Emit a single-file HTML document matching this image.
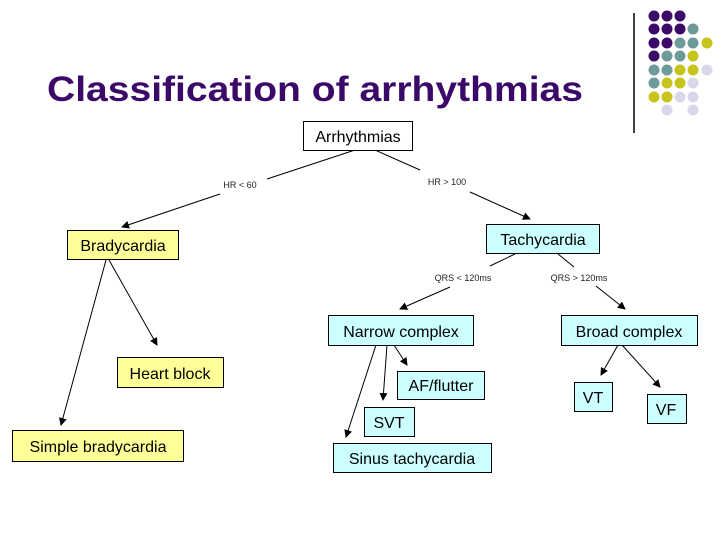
<!DOCTYPE html>
<html><head><meta charset="utf-8"><style>html,body{margin:0;padding:0;background:#fff}svg{display:block}</style></head>
<body>
<svg width="728" height="546" viewBox="0 0 728 546" xmlns="http://www.w3.org/2000/svg" font-family="Liberation Sans, Arial, sans-serif">
<defs><marker id="a" markerWidth="8" markerHeight="8" refX="7" refY="4" orient="auto" markerUnits="userSpaceOnUse"><path d="M0,0 L8,4 L0,8 z" fill="#000"/></marker></defs>
<g fill="#3b0a68"><circle cx="654" cy="16" r="5.5"/><circle cx="667" cy="16" r="5.5"/><circle cx="680" cy="16" r="5.5"/>
<circle cx="654" cy="29" r="5.5"/><circle cx="667" cy="29" r="5.5"/><circle cx="680" cy="29" r="5.5"/>
<circle cx="654" cy="43" r="5.5"/><circle cx="667" cy="43" r="5.5"/><circle cx="654" cy="56" r="5.5"/></g>
<g fill="#6e9a9a"><circle cx="693" cy="29" r="5.5"/><circle cx="680" cy="43" r="5.5"/><circle cx="693" cy="43" r="5.5"/>
<circle cx="667" cy="56" r="5.5"/><circle cx="680" cy="56" r="5.5"/><circle cx="654" cy="70" r="5.5"/><circle cx="667" cy="70" r="5.5"/><circle cx="654" cy="83" r="5.5"/></g>
<g fill="#c8c41e"><circle cx="707" cy="43" r="5.5"/><circle cx="693" cy="56" r="5.5"/><circle cx="680" cy="70" r="5.5"/><circle cx="693" cy="70" r="5.5"/>
<circle cx="667" cy="83" r="5.5"/><circle cx="680" cy="83" r="5.5"/><circle cx="654" cy="97" r="5.5"/><circle cx="667" cy="97" r="5.5"/></g>
<g fill="#d8d8ea"><circle cx="707" cy="70" r="5.5"/><circle cx="693" cy="83" r="5.5"/><circle cx="680" cy="97" r="5.5"/><circle cx="693" cy="97" r="5.5"/><circle cx="667" cy="110" r="5.5"/><circle cx="693" cy="110" r="5.5"/></g>
<line x1="634" y1="13" x2="634" y2="133" stroke="#000" stroke-width="1.5"/>
<text x="47" y="101" font-size="35" font-weight="bold" fill="#3b0a68" textLength="536" lengthAdjust="spacingAndGlyphs">Classification of arrhythmias</text>
<g stroke="#000" stroke-width="1" fill="none">
<line x1="355" y1="150" x2="267" y2="179"/><line x1="220" y1="194" x2="122" y2="227" marker-end="url(#a)"/>
<line x1="375" y1="150" x2="420" y2="170"/><line x1="470" y1="192" x2="530" y2="219" marker-end="url(#a)"/>
<line x1="515" y1="254" x2="490" y2="266"/><line x1="450" y1="287" x2="400" y2="309" marker-end="url(#a)"/>
<line x1="558" y1="254" x2="574" y2="267"/><line x1="596" y1="286" x2="625" y2="309" marker-end="url(#a)"/>
<line x1="394" y1="345" x2="407" y2="365" marker-end="url(#a)"/>
<line x1="387" y1="345" x2="383" y2="400" marker-end="url(#a)"/>
<line x1="376" y1="345" x2="346" y2="437" marker-end="url(#a)"/>
<line x1="618" y1="345" x2="601" y2="375" marker-end="url(#a)"/>
<line x1="622" y1="345" x2="660" y2="387" marker-end="url(#a)"/>
<line x1="109" y1="260" x2="157" y2="345" marker-end="url(#a)"/>
<line x1="106" y1="260" x2="61" y2="425" marker-end="url(#a)"/>
</g>
<g font-size="9" fill="#222" text-anchor="middle">
<text x="240" y="188">HR &lt; 60</text><text x="447" y="185">HR &gt; 100</text>
<text x="463" y="281">QRS &lt; 120ms</text><text x="579" y="281">QRS &gt; 120ms</text>
</g>
<g stroke="#000" stroke-width="1">
<rect x="303.5" y="121.5" width="109" height="29" fill="#fff"/>
<rect x="67.5" y="230.5" width="111" height="29" fill="#ffff99"/>
<rect x="486.5" y="224.5" width="113" height="29" fill="#ccffff"/>
<rect x="328.5" y="315.5" width="145" height="30" fill="#ccffff"/>
<rect x="561.5" y="315.5" width="136" height="30" fill="#ccffff"/>
<rect x="397.5" y="371.5" width="87" height="28" fill="#ccffff"/>
<rect x="364.5" y="407.5" width="50" height="29" fill="#ccffff"/>
<rect x="333.5" y="443.5" width="158" height="29" fill="#ccffff"/>
<rect x="574.5" y="382.5" width="38" height="29" fill="#ccffff"/>
<rect x="647.5" y="394.5" width="39" height="29" fill="#ccffff"/>
<rect x="117.5" y="357.5" width="106" height="30" fill="#ffff99"/>
<rect x="12.5" y="430.5" width="171" height="31" fill="#ffff99"/>
</g>
<g font-size="16" fill="#000" text-anchor="middle">
<text x="358" y="142">Arrhythmias</text>
<text x="123" y="251">Bradycardia</text>
<text x="543" y="245">Tachycardia</text>
<text x="401" y="337">Narrow complex</text>
<text x="629" y="337">Broad complex</text>
<text x="441" y="391">AF/flutter</text>
<text x="389" y="428">SVT</text>
<text x="412" y="464">Sinus tachycardia</text>
<text x="593" y="403">VT</text>
<text x="666" y="415">VF</text>
<text x="170" y="379">Heart block</text>
<text x="98" y="452">Simple bradycardia</text>
</g>
</svg>
</body></html>
